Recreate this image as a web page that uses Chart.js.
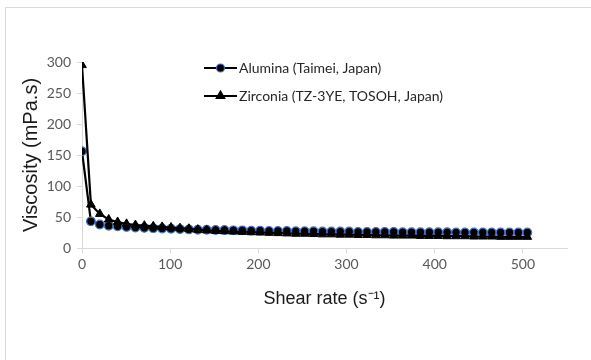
<!DOCTYPE html>
<html><head><meta charset="utf-8">
<script src="https://cdn.jsdelivr.net/npm/chart.js@4.4.1/dist/chart.umd.min.js"></script>
<style>
html,body{margin:0;padding:0;background:#fff;overflow:hidden;}
#wrap{position:absolute;left:0;top:0;width:591px;height:360px;}
#frame{position:absolute;left:5px;top:7px;width:700px;height:500px;border-left:1.5px solid #d9d9d9;border-top:1.5px solid #d9d9d9;}
canvas{position:absolute;left:0;top:0;}
</style></head>
<body>
<div id="wrap"><div id="frame"></div><canvas id="c" width="591" height="360"></canvas></div>
<script>
const shearRate = [0,10.1,20.2,30.3,40.4,50.5,60.6,70.7,80.8,90.9,101,111.1,121.2,131.3,141.4,151.5,161.6,171.7,181.8,191.9,202,212.1,222.2,232.3,242.4,252.5,262.6,272.7,282.8,292.9,303,313.1,323.2,333.3,343.4,353.5,363.6,373.7,383.8,393.9,404,414.1,424.2,434.3,444.4,454.5,464.6,474.7,484.8,494.9,505];
const alumina = [156,43,38,36,35,34,33,32.5,32,31.5,31,30.5,30,29.5,29.5,29,29,28.5,28.5,28,28,27.5,27.5,27.5,27,27,27,26.5,26.5,26.5,26.5,26,26,26,26,26,25.5,25.5,25.5,25.5,25.5,25.5,25,25,25,25,25,25,25,25,25];
const zirconia = [295,70,55,46,42,39,37,36,35,34,33,32,31,29.5,28.5,27.5,27,26.5,26,25.5,25,24.5,24,23.5,23,23,22.5,22,22,21.5,21.5,21,21,20.5,20.5,20,20,20,19.5,19.5,19.5,19,19,19,18.5,18.5,18.5,18,18,18,18];
const seriesNames = ['Alumina (Taimei, Japan)','Zirconia (TZ-3YE, TOSOH, Japan)'];
const xTicks = [0,100,200,300,400,500];
const yTicks = [0,50,100,150,200,250,300];

const toPts = (xs, ys) => xs.map((x,i)=>({x:x,y:ys[i]}));

const legendPlugin = {
  id:'customLegend',
  afterDraw(chart){
    const ctx = chart.ctx;
    const items = [
      {label:seriesNames[0], style:'circle', fill:'#000', stroke:'#4472C4', r:4, y:68},
      {label:seriesNames[1], style:'triangle', fill:'#000', stroke:'#000', r:5, y:96}
    ];
    ctx.save();
    items.forEach(it=>{
      ctx.strokeStyle='#000'; ctx.lineWidth=2.2;
      ctx.beginPath(); ctx.moveTo(204,it.y); ctx.lineTo(237,it.y); ctx.stroke();
      ctx.fillStyle=it.fill; ctx.strokeStyle=it.stroke; ctx.lineWidth=1.2;
      Chart.helpers.drawPoint(ctx,{pointStyle:it.style,radius:it.r,borderWidth:1.2},220.5,it.y);
      ctx.fillStyle='#262626';
      ctx.font='14px Lato';
      ctx.textBaseline='middle'; ctx.textAlign='left';
      ctx.fillText(it.label,239,it.y);
    });
    ctx.restore();
  }
};

new Chart(document.getElementById('c'),{
  type:'scatter',
  data:{datasets:[
    {label:seriesNames[0],data:toPts(shearRate,alumina),showLine:true,borderColor:'#000',borderWidth:2.2,
     pointStyle:'circle',pointRadius:4.3,pointBackgroundColor:'#000',pointBorderColor:'#4472C4',pointBorderWidth:1.3,order:1},
    {label:seriesNames[1],data:toPts(shearRate,zirconia),showLine:true,borderColor:'#000',borderWidth:2.2,
     pointStyle:'triangle',pointRadius:5,pointBackgroundColor:'#000',pointBorderColor:'#000',pointBorderWidth:1,order:0}
  ]},
  options:{
    responsive:false,animation:false,
    layout:{padding:{left:19,right:24,top:62,bottom:50}},
    plugins:{legend:{display:false},tooltip:{enabled:false}},
    scales:{
      x:{type:'linear',min:0,max:550,
        afterBuildTicks(s){s.ticks=xTicks.map(v=>({value:v}));},
        afterFit(s){s.height=62;},
        grid:{display:true,drawOnChartArea:false,drawTicks:true,tickLength:5,color:'#d9d9d9'},
        border:{color:'#d9d9d9',width:1},
        ticks:{color:'#595959',font:{family:'Lato',size:14},padding:3,maxRotation:0},
        title:{display:true,text:'Shear rate (s\u207B\u00B9)',color:'#1a1a1a',font:{family:'Liberation Sans',size:18},padding:{top:2,bottom:0}}
      },
      y:{type:'linear',min:0,max:300,
        afterBuildTicks(s){s.ticks=yTicks.map(v=>({value:v}));},
        afterFit(s){s.width=63;},
        grid:{display:true,drawOnChartArea:false,drawTicks:true,tickLength:5,color:'#d9d9d9'},
        border:{color:'#d9d9d9',width:1},
        ticks:{color:'#595959',font:{family:'Lato',size:14},padding:6},
        title:{display:true,text:'Viscosity (mPa.s)',color:'#1a1a1a',font:{family:'Liberation Sans',size:20},padding:{top:0,bottom:0}}
      }
    }
  },
  plugins:[legendPlugin]
});
</script>
</body></html>
